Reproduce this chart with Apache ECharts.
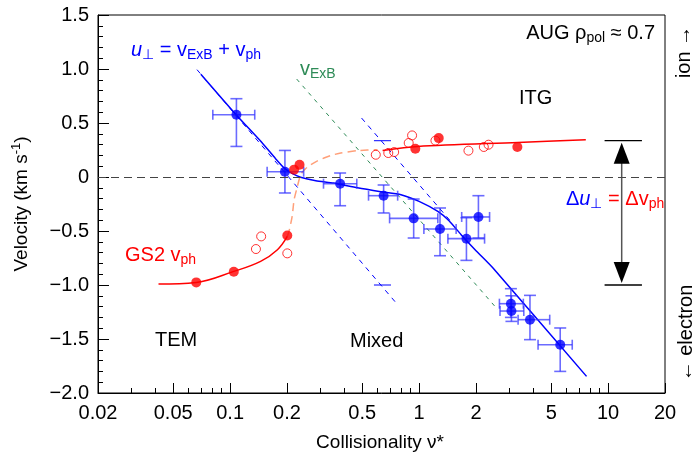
<!DOCTYPE html>
<html><head><meta charset="utf-8">
<script src="https://cdn.jsdelivr.net/npm/echarts@6/dist/echarts.min.js"></script>
<style>html,body{margin:0;padding:0;background:#fff}#c{width:695px;height:456px}</style>
</head><body><div id="c"></div>
<script>
// ---- tick labels ----
const xTickLabels = ['0.02','0.05','0.1','0.2','0.5','1','2','5','10','20'];
const xMinorTicks = [0.03,0.04,0.06,0.07,0.08,0.09,0.3,0.4,0.6,0.7,0.8,0.9,3,4,6,7,8,9];
const yTickLabels = ['−2.0','−1.5','−1.0','−0.5','0','0.5','1.0','1.5'];

// ---- measured u_perp (blue) ----
const measNu   = [0.108, 0.195, 0.382, 0.649, 0.936, 1.29, 1.78, 2.06, 3.06, 3.08, 3.86, 5.58];
const measV    = [0.577, 0.049, -0.062, -0.173, -0.383, -0.481, -0.571, -0.370, -1.173, -1.241, -1.321, -1.553];
const measNuLo = [0.081, 0.157, 0.312, 0.54, 0.698, 1.06, 1.42, 1.68, 2.66, 2.68, 3.34, 4.26];
const measNuHi = [0.135, 0.245, 0.468, 0.77, 1.256, 1.57, 2.22, 2.36, 3.56, 3.58, 4.91, 6.46];
const measVLo  = [0.283, -0.148, -0.266, -0.333, -0.565, -0.729, -0.772, -0.565, -1.30, -1.337, -1.506, -1.80];
const measVHi  = [0.725, 0.246, 0.037, -0.074, -0.204, -0.287, -0.377, -0.173, -1.034, -1.10, -1.096, -1.398];

// ---- u_perp fit (blue solid) ----
const fitNu = [0.070, 0.1076, 0.148, 0.174, 0.195, 0.214, 0.236, 0.284, 0.353, 0.472, 0.628, 0.802, 1.0, 1.256, 1.44, 1.668, 2.0, 2.46, 7.69];
const fitV  = [0.952, 0.577, 0.315, 0.170, 0.077, 0.031, -0.002, -0.034, -0.056, -0.100, -0.136, -0.164, -0.226, -0.319, -0.405, -0.534, -0.682, -0.843, -1.846];

// ---- v_ExB (green dashed) and shifted lines (blue dashed) ----
const exbNu = [0.225, 2.61];
const exbV  = [0.907, -1.229];
const temShiftNu = [0.0668, 0.754];
const temShiftV  = [0.994, -1.164];
const itgShiftNu = [0.496, 1.51];
const itgShiftV  = [0.546, -0.434];
const zeroExbNu  = [0.577, 0.71];   // short marks where v_ExB = 0
const temPhV = -1.0;
const itgPhV = 0.336;

// ---- GS2 v_ph (red) ----
const gs2FilledNu = [0.0662, 0.1046, 0.2007, 0.218, 0.233, 0.955, 1.27, 3.31];
const gs2FilledV  = [-0.976, -0.877, -0.541, 0.068, 0.114, 0.262, 0.36, 0.278];
const gs2OpenNu = [0.137, 0.146, 0.2007, 0.590, 0.687, 0.738, 0.881, 0.918, 1.22, 1.824, 2.20, 2.33];
const gs2OpenV  = [-0.667, -0.55, -0.707, 0.206, 0.222, 0.231, 0.315, 0.385, 0.337, 0.244, 0.278, 0.299];
const temFitNu = [0.0418, 0.0662, 0.1046, 0.145, 0.178, 0.2007];
const temFitV  = [-0.991, -0.976, -0.874, -0.781, -0.673, -0.55];
const transNu = [0.2007, 0.205, 0.213, 0.218, 0.227, 0.236, 0.250, 0.267, 0.290, 0.314, 0.345, 0.385, 0.472, 0.603];
const transV  = [-0.55, -0.504, -0.365, -0.21, -0.087, 0.021, 0.075, 0.114, 0.150, 0.176, 0.202, 0.222, 0.244, 0.253];
const itgFitNu = [0.641, 0.984, 3.33, 7.62];
const itgFitV  = [0.246, 0.283, 0.320, 0.345];

// ---- delta arrow ----
const deltaNu = 11.8, deltaBarNu = [9.58, 15.1];

const L = Math.log10;
const zip = (a, b) => a.map((v, i) => [L(v), b[i]]);
const FONT = 'Liberation Sans, Arial, Helvetica, sans-serif';
const xMin = L(0.02), xMax = L(20);
const xMajorVals = xTickLabels.map(s => L(parseFloat(s)));
const fmtX = v => { let best = 0, bd = 1e9; xMajorVals.forEach((m, i) => { const d = Math.abs(m - v); if (d < bd) { bd = d; best = i; } }); return xTickLabels[best]; };
const fmtY = v => { const i = Math.round((v + 2) / 0.5); return yTickLabels[i] !== undefined ? yTickLabels[i] : ''; };

const BLUE = '#0000ff', RED = '#ff0000', GREEN = '#2e8b57', SALMON = '#ffa07a';

function renderErr(params, api) {
  const x = api.value(0), y = api.value(1);
  const pl = api.coord([api.value(2), y]), ph = api.coord([api.value(3), y]);
  const pb = api.coord([x, api.value(4)]), pt = api.coord([x, api.value(5)]);
  const st = { stroke: 'rgba(50,50,255,0.72)', lineWidth: 1.6 };
  const cw = 6, ch = 5;
  const ln = (x1, y1, x2, y2) => ({ type: 'line', shape: { x1, y1, x2, y2 }, style: st });
  return { type: 'group', children: [
    ln(pl[0], pl[1], ph[0], ph[1]),
    ln(pl[0], pl[1] - ch, pl[0], pl[1] + ch),
    ln(ph[0], ph[1] - ch, ph[0], ph[1] + ch),
    ln(pb[0], pb[1], pt[0], pt[1]),
    ln(pb[0] - cw, pb[1], pb[0] + cw, pb[1]),
    ln(pt[0] - cw, pt[1], pt[0] + cw, pt[1])
  ]};
}

function renderDelta(params, api) {
  const top = api.coord([api.value(0), api.value(1)]);
  const bot = api.coord([api.value(0), api.value(2)]);
  const l1 = api.coord([api.value(3), api.value(1)]), r1 = api.coord([api.value(4), api.value(1)]);
  const l2 = api.coord([api.value(3), api.value(2)]), r2 = api.coord([api.value(4), api.value(2)]);
  const ah = 21, aw = 8;
  return { type: 'group', children: [
    { type: 'line', shape: { x1: l1[0], y1: l1[1], x2: r1[0], y2: r1[1] }, style: { stroke: '#000', lineWidth: 1.3 } },
    { type: 'line', shape: { x1: l2[0], y1: l2[1], x2: r2[0], y2: r2[1] }, style: { stroke: '#000', lineWidth: 1.3 } },
    { type: 'line', shape: { x1: top[0], y1: top[1] + ah, x2: bot[0], y2: bot[1] - ah }, style: { stroke: '#555', lineWidth: 1.5 } },
    { type: 'polygon', shape: { points: [[top[0], top[1] + 2], [top[0] - aw, top[1] + ah + 2], [top[0] + aw, top[1] + ah + 2]] }, style: { fill: '#000' } },
    { type: 'polygon', shape: { points: [[bot[0], bot[1] - 2], [bot[0] - aw, bot[1] - ah - 2], [bot[0] + aw, bot[1] - ah - 2]] }, style: { fill: '#000' } }
  ]};
}

const lineS = (data, color, width, type, smooth, z) => ({
  type: 'line', data, symbol: 'none', smooth: smooth || false, silent: true, z: z || 2,
  lineStyle: { color, width, type: type || 'solid' }
});

const sub = (fs, col) => ({ fontSize: fs, fill: col, fontFamily: FONT, lineHeight: 14, verticalAlign: 'bottom' });
const main = (fs, col, extra) => Object.assign({ fontSize: fs, fill: col, fontFamily: FONT, lineHeight: 24, verticalAlign: 'middle' }, extra || {});

const option = {
  animation: false,
  backgroundColor: '#fff',
  grid: { left: 98, right: 30, top: 15, bottom: 63, show: true, borderColor: '#000', borderWidth: 1, containLabel: false, outerBoundsMode: 'none' },
  xAxis: [
    { type: 'value', min: xMin, max: xMax, position: 'bottom', offset: 0,
      axisLine: { show: true, onZero: false, lineStyle: { color: '#000', width: 1 } },
      axisTick: { show: true, inside: true, length: 10, customValues: xMajorVals, lineStyle: { color: '#000' } },
      axisLabel: { show: true, customValues: xMajorVals, formatter: fmtX, fontSize: 20, color: '#000', fontFamily: FONT, margin: 10, showMinLabel: true, showMaxLabel: true },
      splitLine: { show: false } },
    { type: 'value', min: xMin, max: xMax, position: 'bottom', offset: 0,
      axisLine: { show: false, onZero: false },
      axisTick: { show: true, inside: true, length: 5, customValues: xMinorTicks.map(L), lineStyle: { color: '#000' } },
      axisLabel: { show: false }, splitLine: { show: false } }
  ],
  yAxis: { type: 'value', min: -2, max: 1.5, interval: 0.5, position: 'left',
    axisLine: { show: true, onZero: false, lineStyle: { color: '#000', width: 1 } },
    axisTick: { show: true, inside: true, length: 11, lineStyle: { color: '#000' } },
    minorTick: { show: true, splitNumber: 5, length: 5, lineStyle: { color: '#000' } },
    axisLabel: { formatter: fmtY, fontSize: 20, color: '#000', fontFamily: FONT, margin: 9, showMinLabel: true, showMaxLabel: true },
    splitLine: { show: false }, minorSplitLine: { show: false } },
  series: [
    Object.assign(lineS(zip(exbNu, exbV), GREEN, 1, [4, 5]), {
      markLine: { silent: true, symbol: 'none', label: { show: false }, lineStyle: { color: '#444', type: [8, 5], width: 1.2 }, data: [{ yAxis: 0 }] } }),
    lineS(zip(temShiftNu, temShiftV), BLUE, 1, [5, 5]),
    lineS(zip(itgShiftNu, itgShiftV), BLUE, 1, [5, 5]),
    lineS(zeroExbNu.map(n => [L(n), temPhV]), BLUE, 1),
    lineS(zeroExbNu.map(n => [L(n), itgPhV]), BLUE, 1),
    lineS(zip(transNu, transV), SALMON, 1.5, [8, 5], 0.15),
    lineS(zip(temFitNu, temFitV), RED, 1.5, 'solid', 0.4),
    lineS(zip(itgFitNu, itgFitV), RED, 1.5, 'solid', 0.3),
    lineS(zip(fitNu, fitV), BLUE, 1.5, 'solid', 0.2, 3),
    { type: 'custom', renderItem: renderErr, silent: true, z: 4,
      encode: { x: [0, 2, 3], y: [1, 4, 5] },
      data: measNu.map((n, i) => [L(n), measV[i], L(measNuLo[i]), L(measNuHi[i]), measVLo[i], measVHi[i]]) },
    { type: 'scatter', data: zip(measNu, measV), symbol: 'circle', symbolSize: 10, itemStyle: { color: BLUE }, z: 5, silent: true },
    { type: 'scatter', data: zip(gs2OpenNu, gs2OpenV), symbol: 'circle', symbolSize: 9, itemStyle: { color: 'rgba(255,255,255,0)', borderColor: RED, borderWidth: 1 }, z: 5, silent: true },
    { type: 'scatter', data: zip(gs2FilledNu, gs2FilledV), symbol: 'circle', symbolSize: 10, itemStyle: { color: RED }, z: 5, silent: true },
    { type: 'custom', renderItem: renderDelta, silent: true, z: 4,
      encode: { x: [0, 3, 4], y: [1, 2] },
      data: [[L(deltaNu), itgPhV, temPhV, L(deltaBarNu[0]), L(deltaBarNu[1])]] }
  ],
  graphic: [
    { type: 'text', left: 131, top: 40, style: { text: '{u|u}{s|⊥}{m| = v}{s|ExB}{m| + v}{s|ph}',
      rich: { u: main(20, BLUE, { fontStyle: 'italic' }), m: main(20, BLUE), s: sub(14, BLUE) } } },
    { type: 'text', left: 300, top: 59, style: { text: '{m|v}{s|ExB}', rich: { m: main(20, GREEN), s: sub(14, GREEN) } } },
    { type: 'text', right: 40, top: 23, style: { text: '{m|AUG ρ}{s|pol}{m| ≈ 0.7}', rich: { m: main(20, '#000'), s: sub(14, '#000') } } },
    { type: 'text', left: 519, top: 88, style: { text: 'ITG', fontSize: 20, fill: '#000', fontFamily: FONT } },
    { type: 'text', left: 566, top: 189, style: { text: '{d|Δ}{u|u}{sb|⊥}{r| = Δv}{sr|ph}',
      rich: { d: main(20, BLUE), u: main(20, BLUE, { fontStyle: 'italic' }), sb: sub(14, BLUE), r: main(20, RED), sr: sub(14, RED) } } },
    { type: 'text', left: 125, top: 245, style: { text: '{m|GS2 v}{s|ph}', rich: { m: main(20, RED), s: sub(14, RED) } } },
    { type: 'text', left: 155, top: 330, style: { text: 'TEM', fontSize: 20, fill: '#000', fontFamily: FONT } },
    { type: 'text', left: 350, top: 331, style: { text: 'Mixed', fontSize: 20, fill: '#000', fontFamily: FONT } },
    { type: 'text', x: 684, y: 52, rotation: Math.PI / 2, style: { text: 'ion →', fontSize: 20, fill: '#000', fontFamily: FONT, align: 'center', verticalAlign: 'middle' } },
    { type: 'text', x: 686, y: 333, rotation: Math.PI / 2, style: { text: '← electron', fontSize: 20, fill: '#000', fontFamily: FONT, align: 'center', verticalAlign: 'middle' } },
    { type: 'text', x: 22, y: 204, rotation: Math.PI / 2, style: { text: '{m|Velocity (km s}{p|-1}{m|)}', align: 'center', verticalAlign: 'middle',
      rich: { m: { fontSize: 19, fill: '#000', fontFamily: FONT, lineHeight: 24, verticalAlign: 'middle' }, p: { fontSize: 13, fill: '#000', fontFamily: FONT, lineHeight: 14, verticalAlign: 'top' } } } },
    { type: 'text', x: 380, y: 443, style: { text: 'Collisionality ν*', fontSize: 19, fill: '#000', fontFamily: FONT, align: 'center', verticalAlign: 'middle' } }
  ]
};
const chart = echarts.init(document.getElementById('c'), null, { renderer: 'canvas' });
chart.setOption(option);
</script></body></html>
